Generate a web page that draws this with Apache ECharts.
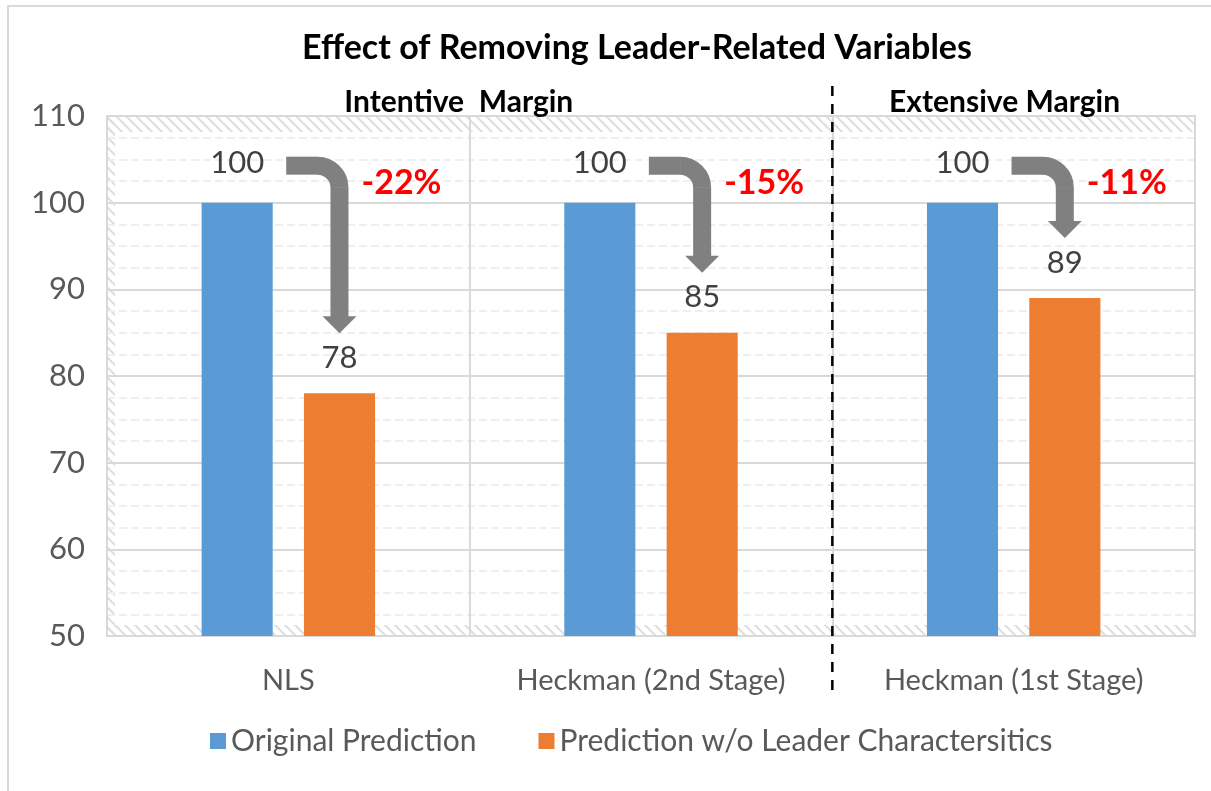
<!DOCTYPE html>
<html>
<head>
<meta charset="utf-8">
<script src="https://cdn.jsdelivr.net/npm/echarts@6/dist/echarts.min.js"></script>
<style>
  html, body { margin: 0; padding: 0; background: #fff; }
  #main { width: 1211px; height: 791px; }
</style>
</head>
<body>
<div id="main"></div>
<script>
var categories = ['NLS', 'Heckman (2nd Stage)', 'Heckman (1st Stage)']
var original = [100, 100, 100]
var withoutLeader = [78, 85, 89]
var seriesNames = ['Original Prediction', 'Prediction w/o Leader Charactersitics']
var groupLabels = ['Intentive  Margin', 'Extensive Margin']

var FONT = 'Lato'
var chart = echarts.init(document.getElementById('main'))

// light diagonal hatch used on the edges of the plot area
function makeHatch() {
  var c = document.createElement('canvas')
  c.width = 10
  c.height = 10
  var ctx = c.getContext('2d')
  ctx.strokeStyle = '#dedede'
  ctx.lineWidth = 2
  ctx.beginPath()
  ctx.moveTo(0, 0); ctx.lineTo(10, 10)
  ctx.moveTo(-5, 5); ctx.lineTo(5, 15)
  ctx.moveTo(5, -5); ctx.lineTo(15, 5)
  ctx.stroke()
  return c
}
var hatch = makeHatch()

chart.setOption({
  animation: false,
  color: ['#5B9BD5', '#ED7D31'],
  title: {
    text: 'Effect of Removing Leader-Related Variables',
    left: 632,
    textAlign: 'center',
    top: 26,
    textStyle: { fontFamily: FONT, fontWeight: 'bold', fontSize: 34, color: '#000' }
  },
  legend: {
    data: seriesNames,
    bottom: 30,
    left: 205,
    itemWidth: 16,
    itemHeight: 16,
    itemGap: 62,
    icon: 'rect',
    textStyle: { fontFamily: FONT, fontSize: 30, color: '#595959' }
  },
  grid: {
    left: 107,
    right: 16,
    top: 116,
    bottom: 155,
    show: true,
    borderColor: '#d9d9d9',
    borderWidth: 2
  },
  xAxis: {
    type: 'category',
    data: categories,
    axisLine: { show: false },
    axisTick: { show: false },
    splitLine: { show: true, lineStyle: { color: '#d9d9d9', width: 2 } },
    axisLabel: { fontFamily: FONT, fontSize: 29, color: '#595959', margin: 30 }
  },
  yAxis: {
    type: 'value',
    min: 50,
    max: 110,
    interval: 10,
    axisLine: { show: false },
    axisTick: { show: false },
    axisLabel: { fontFamily: FONT, fontSize: 31, color: '#595959', margin: 22 },
    splitLine: { lineStyle: { color: '#d9d9d9', width: 2 } },
    minorTick: { show: false, splitNumber: 4 },
    minorSplitLine: { show: true, lineStyle: { color: '#efefef', width: 2, type: [8, 4] } }
  },
  series: [
    {
      name: seriesNames[0],
      type: 'bar',
      data: original,
      barWidth: '19.6%',
      barGap: '44%',
      label: { show: true, position: 'top', distance: 24, fontFamily: FONT, fontSize: 31, color: '#404040' }
    },
    {
      name: seriesNames[1],
      type: 'bar',
      data: withoutLeader,
      barWidth: '19.6%',
      label: { show: true, position: 'top', distance: 20, fontFamily: FONT, fontSize: 31, color: '#404040' }
    }
  ]
})

// annotations placed from the axis scales
var bandW = chart.convertToPixel({ xAxisIndex: 0 }, 1) - chart.convertToPixel({ xAxisIndex: 0 }, 0)
var yTop = chart.convertToPixel({ yAxisIndex: 0 }, 110)
var yBot = chart.convertToPixel({ yAxisIndex: 0 }, 50)
var xLeft = chart.convertToPixel({ xAxisIndex: 0 }, 0) - bandW / 2
var xRight = xLeft + bandW * categories.length
var offset = bandW * 0.141

var graphics = [
  { type: 'rect', z: -10, silent: true, shape: { x: 8, y: 6, width: 1240, height: 820 },
    style: { fill: 'none', stroke: '#d9d9d9', lineWidth: 2 } },
  { type: 'rect', z: -1, silent: true, shape: { x: xLeft, y: yTop, width: xRight - xLeft, height: 16 },
    style: { fill: { image: hatch, repeat: 'repeat' } } },
  { type: 'rect', z: -1, silent: true, shape: { x: xLeft, y: yBot - 11, width: xRight - xLeft, height: 11 },
    style: { fill: { image: hatch, repeat: 'repeat' } } },
  { type: 'rect', z: -1, silent: true, shape: { x: xLeft, y: yTop, width: 8, height: yBot - yTop },
    style: { fill: { image: hatch, repeat: 'repeat' } } }
]

// dashed separator between the two groups
var sepX = xLeft + bandW * 2
graphics.push({
  type: 'line', silent: true, z: 20,
  shape: { x1: sepX, y1: 86, x2: sepX, y2: 690 },
  style: { stroke: '#000', lineWidth: 2.5, lineDash: [10, 8] }
})

// group titles
var groupCenters = [xLeft + bandW * 0.97, xLeft + bandW * 2.475]
groupLabels.forEach(function (t, i) {
  graphics.push({
    type: 'text', silent: true, z: 20,
    x: groupCenters[i], y: 102,
    style: { text: t, fontFamily: FONT, fontWeight: 'bold', fontSize: 30, fill: '#000',
      align: 'center', verticalAlign: 'middle' }
  })
})

// elbow arrows and change percentages
categories.forEach(function (c, i) {
  var cx = chart.convertToPixel({ xAxisIndex: 0 }, i)
  var bx = cx - offset
  var ox = cx + offset
  var by = chart.convertToPixel({ yAxisIndex: 0 }, original[i])
  var oy = chart.convertToPixel({ yAxisIndex: 0 }, withoutLeader[i])
  var x0 = bx + 49
  var y0 = by - 37
  var tip = oy - 60
  var r = 22
  var headH = 17
  var baseY = tip - headH
  var arrowStyle = { fill: 'none', stroke: '#808080', lineWidth: 18 }
  graphics.push({
    type: 'line', silent: true, z: 15,
    shape: { x1: x0, y1: y0, x2: ox - r + 0.5, y2: y0 },
    style: arrowStyle
  })
  graphics.push({
    type: 'arc', silent: true, z: 15,
    shape: { cx: ox - r, cy: y0 + r, r: r, startAngle: -Math.PI / 2, endAngle: 0, clockwise: true },
    style: arrowStyle
  })
  graphics.push({
    type: 'line', silent: true, z: 15,
    shape: { x1: ox, y1: y0 + r - 0.5, x2: ox, y2: baseY + 1 },
    style: arrowStyle
  })
  graphics.push({
    type: 'polygon', silent: true, z: 15,
    shape: { points: [[ox - 17, baseY], [ox + 17, baseY], [ox, tip]] },
    style: { fill: '#808080' }
  })
  var pct = Math.round((withoutLeader[i] - original[i]) / original[i] * 100)
  graphics.push({
    type: 'text', silent: true, z: 20,
    x: ox + 62, y: by - 20,
    style: { text: pct + '%', fontFamily: FONT, fontWeight: 'bold', fontSize: 34, fill: '#ff0000',
      align: 'center', verticalAlign: 'middle' }
  })
})

chart.setOption({ graphic: graphics })
</script>
</body>
</html>
